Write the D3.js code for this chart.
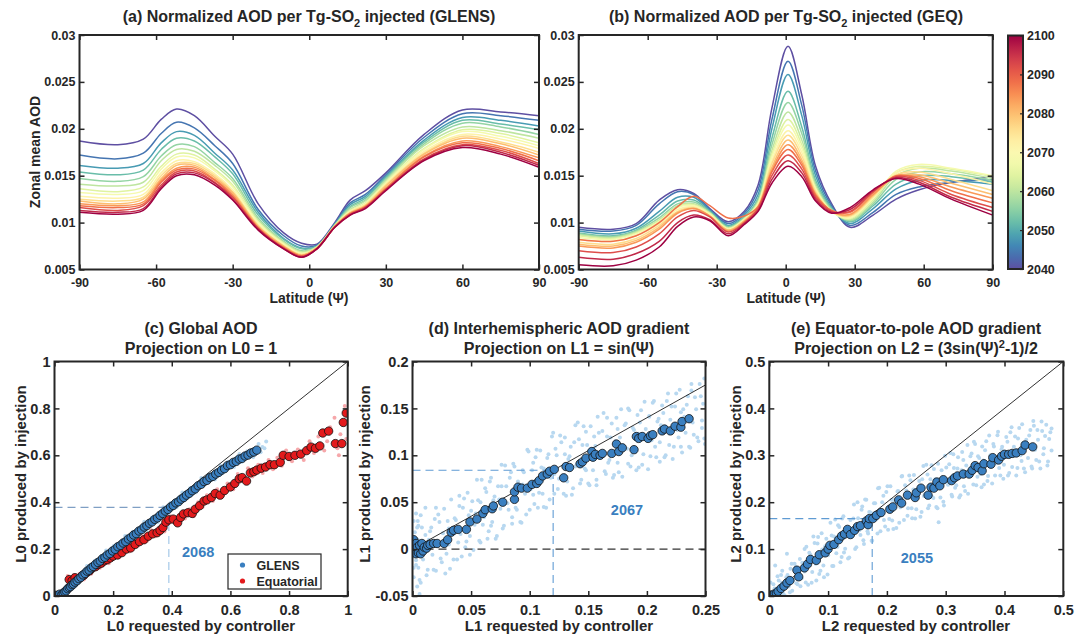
<!DOCTYPE html>
<html>
<head>
<meta charset="utf-8">
<script src="https://cdn.jsdelivr.net/npm/d3@7"></script>
<style>
  body { margin: 0; background: #fff; }
</style>
</head>
<body>
<svg id="fig" width="1089" height="636"></svg>
<script>
// ---------- data ----------
const years = [2040,2044,2048,2052,2056,2060,2064,2068,2072,2076,2080,2084,2088,2092,2096,2100];

// (a) GLENS, zonal mean AOD in units of 1e-4, one row per year
const latA = [-90,-75,-65,-58,-52,-45,-37,-30,-20,-10,-3,3,10,16,22,30,45,60,75,90];
const glensAOD = [
  [187,183,189,210,221,214,192,173,120,89,78,77,100,124,134,153,194,220,218,214],
  [172,168,174,195,207,201,182,163,114,86,75,76,99,121,130,151,191,216,214,209],
  [161,158,163,185,197,193,174,156,111,83,73,75,98,119,128,149,188,212,209,203],
  [154,151,156,178,190,187,170,152,108,82,72,75,98,117,126,148,186,209,205,199],
  [147,144,149,171,183,181,164,147,105,80,70,74,97,116,124,146,184,206,202,194],
  [141,139,143,166,178,176,161,144,103,79,69,74,97,114,123,145,182,202,198,190],
  [136,133,138,160,173,172,157,140,101,78,68,74,97,113,121,143,179,199,195,185],
  [132,130,134,157,170,169,155,138,100,77,67,73,96,112,120,142,178,197,192,182],
  [128,126,130,153,166,165,152,135,98,76,66,73,96,112,119,141,176,194,189,179],
  [125,123,127,150,163,163,150,133,97,75,66,73,96,111,119,140,174,192,186,175],
  [123,120,125,147,161,161,148,132,96,75,65,73,96,110,118,139,173,190,184,172],
  [120,118,122,145,158,159,146,130,95,74,65,73,96,110,117,137,171,187,181,169],
  [118,116,120,143,156,157,145,128,94,73,64,72,95,109,117,136,170,185,179,166],
  [116,113,118,140,154,155,143,127,94,73,64,72,95,109,116,135,168,183,177,163],
  [113,111,115,138,152,153,142,125,93,72,63,72,95,108,116,135,167,182,175,161],
  [111,109,113,136,150,151,140,124,92,72,63,72,95,108,115,134,166,180,173,159]
];

// (b) GEQ, zonal mean AOD in units of 1e-4
const latB = [-90,-75,-65,-55,-47,-40,-33,-25,-18,-12,-6,1,7,13,20,28,38,48,58,72,90];
const geqAOD = [
  [95,93,99,124,135,131,115,101,112,140,222,288,236,160,120,95,108,125,135,143,149],
  [93,91,97,120,133,130,114,99,110,135,210,272,225,155,118,97,111,130,138,143,146],
  [91,88,94,112,127,127,113,97,108,130,200,258,214,150,116,99,115,136,145,145,141],
  [89,86,92,108,123,124,112,96,106,126,190,240,202,145,115,101,118,141,150,149,143],
  [88,85,91,105,120,122,111,95,105,124,183,228,195,142,114,102,120,146,154,152,145],
  [87,84,90,103,118,120,110,94,104,122,177,218,188,139,113,103,122,150,158,155,147],
  [86,83,89,102,117,119,110,94,104,121,173,210,183,137,112,104,124,153,160,157,149],
  [84,82,88,101,116,118,109,93,103,120,170,204,179,136,112,105,126,155,162,158,150],
  [82,80,86,99,114,117,108,93,103,119,166,198,175,134,112,106,127,153,158,152,141],
  [79,77,83,97,112,116,107,92,102,118,163,193,171,133,112,107,128,151,154,146,134],
  [77,75,81,95,111,115,107,92,102,117,159,188,167,131,112,108,129,150,151,142,130],
  [75,73,79,93,110,115,107,91,101,116,156,183,164,130,112,109,130,149,149,138,126],
  [82,80,86,100,117,128,118,105,107,117,154,178,161,129,113,111,132,150,147,134,121],
  [70,68,74,88,106,113,106,90,100,115,150,172,157,127,112,112,133,149,145,130,116],
  [63,61,67,80,100,108,103,88,99,113,146,166,153,125,111,114,134,148,143,127,112],
  [55,54,60,74,96,106,102,86,98,112,142,160,149,123,110,116,135,147,141,125,108]
];

const latTicks = [-90,-60,-30,0,30,60,90];
const aodTicks = [0.005,0.01,0.015,0.02,0.025,0.03];
const barTicks = [2040,2050,2060,2070,2080,2090,2100];

// (c) L0 projection
const cCloud = [[0.008,0.012],[0.014,-0.001],[0.021,0.01],[0.027,-0.001],[0.034,0.021],[0.04,0.02],[0.046,0.042],[0.053,0.03],[0.059,0.046],[0.066,0.05],[0.072,0.07],[0.079,0.063],[0.085,0.079],[0.092,0.074],[0.098,0.097],[0.105,0.094],[0.111,0.128],[0.118,0.096],[0.124,0.12],[0.131,0.117],[0.137,0.149],[0.144,0.127],[0.15,0.151],[0.157,0.132],[0.163,0.169],[0.17,0.16],[0.176,0.194],[0.183,0.161],[0.189,0.184],[0.196,0.181],[0.202,0.213],[0.209,0.189],[0.215,0.213],[0.222,0.194],[0.228,0.231],[0.235,0.222],[0.241,0.256],[0.248,0.222],[0.254,0.246],[0.261,0.242],[0.267,0.274],[0.274,0.251],[0.28,0.274],[0.287,0.255],[0.293,0.292],[0.3,0.283],[0.306,0.317],[0.313,0.283],[0.319,0.306],[0.326,0.303],[0.332,0.334],[0.339,0.311],[0.345,0.334],[0.352,0.315],[0.358,0.353],[0.365,0.344],[0.371,0.378],[0.378,0.345],[0.384,0.369],[0.391,0.366],[0.397,0.398],[0.404,0.375],[0.41,0.398],[0.417,0.379],[0.423,0.417],[0.43,0.407],[0.436,0.441],[0.443,0.407],[0.449,0.431],[0.456,0.428],[0.462,0.46],[0.469,0.436],[0.475,0.46],[0.482,0.441],[0.488,0.478],[0.495,0.469],[0.501,0.503],[0.508,0.469],[0.514,0.492],[0.521,0.488],[0.527,0.519],[0.534,0.495],[0.54,0.518],[0.547,0.497],[0.553,0.535],[0.56,0.524],[0.566,0.557],[0.573,0.523],[0.579,0.546],[0.586,0.542],[0.592,0.573],[0.599,0.549],[0.605,0.571],[0.612,0.55],[0.618,0.586],[0.625,0.575],[0.631,0.606],[0.638,0.571],[0.644,0.593],[0.651,0.588],[0.657,0.617],[0.664,0.592],[0.67,0.613],[0.677,0.592],[0.683,0.628],[0.69,0.616],[0.696,0.648],[0.703,0.613],[0.709,0.635],[0.716,0.63],[0.722,0.659]];
const cGlens = [[0.005,0.003],[0.012,0.002],[0.018,0.008],[0.025,0.006],[0.03,0.012],[0.035,0.018],[0.04,0.022],[0.045,0.031],[0.05,0.036],[0.055,0.04],[0.06,0.048],[0.065,0.051],[0.07,0.059],[0.077,0.065],[0.083,0.074],[0.09,0.08],[0.097,0.09],[0.104,0.096],[0.111,0.106],[0.118,0.11],[0.125,0.12],[0.132,0.126],[0.14,0.135],[0.148,0.143],[0.156,0.149],[0.164,0.16],[0.172,0.165],[0.18,0.175],[0.189,0.181],[0.198,0.192],[0.207,0.199],[0.216,0.21],[0.225,0.216],[0.234,0.226],[0.243,0.232],[0.252,0.243],[0.261,0.25],[0.27,0.26],[0.279,0.266],[0.288,0.277],[0.297,0.283],[0.306,0.294],[0.315,0.3],[0.324,0.31],[0.333,0.316],[0.342,0.327],[0.351,0.333],[0.36,0.344],[0.369,0.352],[0.378,0.362],[0.387,0.369],[0.396,0.38],[0.405,0.386],[0.414,0.397],[0.423,0.402],[0.432,0.413],[0.441,0.42],[0.45,0.43],[0.46,0.438],[0.47,0.449],[0.48,0.457],[0.49,0.47],[0.5,0.476],[0.51,0.488],[0.52,0.493],[0.53,0.505],[0.54,0.51],[0.55,0.52],[0.56,0.527],[0.57,0.537],[0.58,0.543],[0.59,0.556],[0.6,0.56],[0.61,0.57],[0.62,0.574],[0.63,0.584],[0.64,0.587],[0.65,0.597],[0.66,0.601],[0.67,0.61],[0.68,0.614],[0.69,0.622]];
const cEqCloud = [[0.045,0.085],[0.055,0.05],[0.065,0.09],[0.075,0.06],[0.085,0.095],[0.1,0.07],[0.115,0.115],[0.125,0.095],[0.14,0.14],[0.155,0.12],[0.17,0.165],[0.185,0.14],[0.2,0.185],[0.22,0.165],[0.24,0.21],[0.255,0.19],[0.27,0.235],[0.285,0.215],[0.3,0.255],[0.315,0.235],[0.33,0.28],[0.345,0.255],[0.365,0.3],[0.375,0.275],[0.395,0.34],[0.41,0.31],[0.425,0.345],[0.445,0.33],[0.46,0.37],[0.475,0.34],[0.49,0.4],[0.505,0.38],[0.52,0.43],[0.54,0.405],[0.555,0.455],[0.575,0.43],[0.59,0.48],[0.61,0.455],[0.625,0.52],[0.645,0.49],[0.66,0.545],[0.675,0.51],[0.695,0.56],[0.71,0.525],[0.73,0.58],[0.745,0.54],[0.76,0.59],[0.775,0.555],[0.79,0.62],[0.81,0.575],[0.83,0.625],[0.85,0.58],[0.87,0.66],[0.885,0.61],[0.9,0.68],[0.92,0.62],[0.94,0.72],[0.955,0.76],[0.965,0.63],[0.975,0.69],[0.99,0.81],[0.995,0.67],[0.97,0.6],[0.93,0.66]];
const cEq = [[0.05,0.07],[0.06,0.065],[0.07,0.078],[0.08,0.07],[0.09,0.08],[0.1,0.088],[0.11,0.1],[0.12,0.108],[0.13,0.12],[0.14,0.125],[0.15,0.135],[0.16,0.14],[0.17,0.15],[0.18,0.155],[0.19,0.162],[0.2,0.17],[0.215,0.175],[0.23,0.185],[0.245,0.2],[0.26,0.205],[0.275,0.22],[0.29,0.232],[0.305,0.24],[0.32,0.255],[0.335,0.265],[0.35,0.27],[0.36,0.28],[0.37,0.292],[0.38,0.315],[0.39,0.325],[0.405,0.328],[0.42,0.312],[0.43,0.335],[0.44,0.35],[0.455,0.355],[0.47,0.352],[0.48,0.37],[0.495,0.385],[0.51,0.405],[0.52,0.41],[0.535,0.42],[0.548,0.437],[0.565,0.43],[0.58,0.45],[0.6,0.465],[0.615,0.48],[0.63,0.5],[0.64,0.505],[0.655,0.49],[0.668,0.525],[0.68,0.53],[0.69,0.537],[0.705,0.545],[0.72,0.55],[0.735,0.56],[0.75,0.56],[0.77,0.57],[0.78,0.6],[0.8,0.595],[0.82,0.6],[0.84,0.605],[0.86,0.62],[0.875,0.635],[0.89,0.63],[0.905,0.64],[0.915,0.695],[0.935,0.703],[0.958,0.65],[0.98,0.65],[0.985,0.74],[0.995,0.78]];

// (d) L1 projection
const dCloud = [[0.001,0.03],[0.003,-0.017],[0.0045,0.01],[0.006,-0.033],[0.008,0.023],[0.01,-0.003],[0.011,0.044],[0.013,-0.022],[0.015,0.019],[0.017,-0.006],[0.019,0.032],[0.02,-0.023],[0.022,0.037],[0.024,-0.01],[0.026,0.017],[0.028,-0.026],[0.03,0.03],[0.031,0.005],[0.033,0.053],[0.035,-0.011],[0.037,0.031],[0.039,0.007],[0.04,0.046],[0.042,-0.008],[0.044,0.054],[0.046,0.008],[0.048,0.036],[0.049,-0.006],[0.051,0.051],[0.053,0.026],[0.055,0.074],[0.057,0.009],[0.058,0.05],[0.06,0.026],[0.062,0.065],[0.064,0.011],[0.066,0.072],[0.067,0.025],[0.069,0.052],[0.071,0.011],[0.073,0.067],[0.075,0.043],[0.076,0.09],[0.078,0.025],[0.08,0.067],[0.082,0.042],[0.084,0.082],[0.085,0.027],[0.087,0.088],[0.089,0.042],[0.091,0.069],[0.093,0.028],[0.094,0.084],[0.096,0.059],[0.098,0.106],[0.1,0.042],[0.102,0.084],[0.103,0.058],[0.105,0.098],[0.107,0.044],[0.109,0.105],[0.111,0.059],[0.112,0.086],[0.114,0.044],[0.116,0.101],[0.118,0.076],[0.12,0.124],[0.121,0.059],[0.123,0.1],[0.125,0.075],[0.127,0.114],[0.129,0.059],[0.13,0.119],[0.132,0.072],[0.134,0.099],[0.136,0.058],[0.138,0.114],[0.139,0.088],[0.141,0.135],[0.143,0.07],[0.145,0.111],[0.147,0.086],[0.148,0.125],[0.15,0.07],[0.152,0.131],[0.154,0.084],[0.156,0.11],[0.157,0.068],[0.159,0.124],[0.161,0.098],[0.163,0.145],[0.165,0.08],[0.166,0.12],[0.168,0.095],[0.17,0.134],[0.172,0.079],[0.174,0.14],[0.175,0.092],[0.177,0.119],[0.179,0.077],[0.181,0.132],[0.183,0.107],[0.184,0.15],[0.186,0.088],[0.188,0.129],[0.19,0.104],[0.192,0.143],[0.193,0.087],[0.195,0.148],[0.197,0.101],[0.199,0.128],[0.201,0.085],[0.202,0.141],[0.204,0.116],[0.206,0.158],[0.208,0.098],[0.21,0.139],[0.211,0.114],[0.213,0.153],[0.215,0.098],[0.217,0.158],[0.219,0.111],[0.22,0.138],[0.222,0.096],[0.224,0.152],[0.226,0.127],[0.228,0.17],[0.229,0.109],[0.231,0.149],[0.233,0.124],[0.235,0.163],[0.237,0.108],[0.238,0.169],[0.24,0.122],[0.242,0.149],[0.244,0.115],[0.246,0.163],[0.247,0.137],[0.249,0.182],[0.249,0.118],[0.001,-0.03],[0.002,0.018],[0.0005,-0.008],[0.003,0.038],[0.004,-0.04],[0.002,0.005],[0.005,0.025],[0.001,-0.02],[0.006,-0.048],[0.003,-0.012],[0.0045,0.03],[0.007,-0.036]];
const dCloud2 = [[0.002,-0.004],[0.004,0.023],[0.005,-0.02],[0.007,0.036],[0.009,-0.011],[0.011,0.015],[0.012,-0.028],[0.014,0.01],[0.016,0.023],[0.018,-0.022],[0.02,0.044],[0.021,0.003],[0.023,0.029],[0.025,-0.014],[0.027,0.043],[0.029,-0.005],[0.031,0.022],[0.032,-0.021],[0.034,0.019],[0.036,0.033],[0.038,-0.011],[0.04,0.057],[0.041,0.016],[0.043,0.044],[0.045,0.002],[0.047,0.06],[0.049,0.014],[0.05,0.041],[0.052,-0.001],[0.054,0.038],[0.056,0.052],[0.058,0.007],[0.059,0.074],[0.061,0.034],[0.063,0.061],[0.065,0.019],[0.067,0.076],[0.068,0.029],[0.07,0.056],[0.072,0.014],[0.074,0.053],[0.076,0.067],[0.077,0.022],[0.079,0.089],[0.081,0.049],[0.083,0.076],[0.085,0.034],[0.086,0.091],[0.088,0.044],[0.09,0.072],[0.092,0.029],[0.094,0.069],[0.095,0.082],[0.097,0.037],[0.099,0.104],[0.101,0.064],[0.103,0.092],[0.104,0.048],[0.106,0.106],[0.108,0.06],[0.11,0.087],[0.112,0.045],[0.113,0.084],[0.115,0.097],[0.117,0.053],[0.119,0.12],[0.121,0.08],[0.122,0.107],[0.124,0.064],[0.126,0.121],[0.128,0.074],[0.13,0.101],[0.131,0.057],[0.133,0.096],[0.135,0.109],[0.137,0.065],[0.139,0.132],[0.14,0.09],[0.142,0.117],[0.144,0.074],[0.146,0.131],[0.148,0.084],[0.149,0.111],[0.151,0.068],[0.153,0.107],[0.155,0.12],[0.157,0.074],[0.158,0.141],[0.16,0.1],[0.162,0.126],[0.164,0.083],[0.166,0.14],[0.167,0.092],[0.169,0.119],[0.171,0.076],[0.173,0.115],[0.175,0.128],[0.176,0.082],[0.178,0.149],[0.18,0.108],[0.182,0.134],[0.184,0.091],[0.185,0.148],[0.187,0.1],[0.189,0.127],[0.191,0.084],[0.193,0.123],[0.194,0.135],[0.196,0.09],[0.198,0.157],[0.2,0.116],[0.202,0.142],[0.203,0.099],[0.205,0.156],[0.207,0.109],[0.209,0.136],[0.211,0.093],[0.212,0.132],[0.214,0.145],[0.216,0.1],[0.218,0.166],[0.22,0.125],[0.221,0.152],[0.223,0.109],[0.225,0.166],[0.227,0.119],[0.229,0.146],[0.23,0.103],[0.232,0.141],[0.234,0.154],[0.236,0.109],[0.238,0.176],[0.239,0.135],[0.241,0.162],[0.243,0.119],[0.245,0.176],[0.247,0.129],[0.248,0.155],[0.2495,0.112]];
const dGlens = [[0,0],[0.001,0.01],[0.002,-0.002],[0.003,0.006],[0.003,-0.005],[0.004,0.002],[0.005,-0.004],[0.006,0.004],[0.007,-0.005],[0.008,0.006],[0.009,-0.002],[0.01,0.002],[0.012,0.001],[0.013,0.004],[0.015,0.005],[0.018,0.006],[0.021,0.006],[0.027,0.006],[0.03,0.01],[0.033,0.018],[0.035,0.02],[0.039,0.021],[0.046,0.021],[0.049,0.029],[0.055,0.032],[0.06,0.038],[0.062,0.042],[0.068,0.043],[0.069,0.046],[0.077,0.05],[0.087,0.053],[0.087,0.061],[0.09,0.066],[0.093,0.065],[0.098,0.065],[0.102,0.069],[0.106,0.07],[0.108,0.073],[0.111,0.078],[0.115,0.08],[0.117,0.083],[0.121,0.085],[0.129,0.076],[0.131,0.088],[0.134,0.087],[0.143,0.091],[0.145,0.093],[0.148,0.097],[0.153,0.104],[0.154,0.098],[0.156,0.101],[0.16,0.1],[0.162,0.102],[0.17,0.102],[0.174,0.112],[0.176,0.104],[0.179,0.108],[0.189,0.106],[0.191,0.12],[0.193,0.118],[0.196,0.12],[0.201,0.118],[0.203,0.121],[0.205,0.122],[0.213,0.126],[0.215,0.128],[0.22,0.126],[0.224,0.131],[0.229,0.13],[0.23,0.136],[0.236,0.139]];

// (e) L2 projection
const eCloud = [[0.002,0.029],[0.005,0.001],[0.009,0.016],[0.012,0.004],[0.016,0.033],[0.019,0.012],[0.022,0.054],[0.026,0.001],[0.029,0.04],[0.033,0.02],[0.036,0.058],[0.039,0.011],[0.043,0.069],[0.046,0.027],[0.05,0.056],[0.053,0.021],[0.056,0.071],[0.06,0.052],[0.063,0.105],[0.066,0.024],[0.07,0.088],[0.073,0.051],[0.077,0.113],[0.08,0.033],[0.083,0.126],[0.087,0.054],[0.09,0.099],[0.093,0.04],[0.097,0.122],[0.1,0.087],[0.104,0.156],[0.107,0.064],[0.11,0.127],[0.114,0.091],[0.117,0.151],[0.121,0.072],[0.124,0.165],[0.127,0.093],[0.131,0.139],[0.134,0.08],[0.138,0.162],[0.141,0.127],[0.144,0.195],[0.148,0.104],[0.151,0.166],[0.155,0.13],[0.158,0.191],[0.161,0.111],[0.165,0.205],[0.168,0.133],[0.172,0.178],[0.175,0.118],[0.178,0.198],[0.182,0.163],[0.185,0.23],[0.189,0.138],[0.192,0.2],[0.195,0.162],[0.199,0.222],[0.202,0.141],[0.206,0.234],[0.209,0.161],[0.212,0.204],[0.216,0.145],[0.219,0.224],[0.223,0.189],[0.226,0.256],[0.229,0.162],[0.233,0.225],[0.236,0.187],[0.24,0.247],[0.243,0.166],[0.246,0.258],[0.25,0.185],[0.253,0.229],[0.257,0.169],[0.26,0.249],[0.263,0.213],[0.267,0.28],[0.27,0.187],[0.274,0.249],[0.277,0.211],[0.28,0.271],[0.284,0.19],[0.287,0.282],[0.291,0.21],[0.294,0.253],[0.297,0.193],[0.301,0.274],[0.304,0.237],[0.308,0.305],[0.311,0.212],[0.314,0.273],[0.318,0.236],[0.321,0.296],[0.325,0.215],[0.328,0.307],[0.331,0.234],[0.335,0.278],[0.338,0.218],[0.342,0.298],[0.345,0.262],[0.348,0.329],[0.352,0.236],[0.355,0.298],[0.359,0.26],[0.362,0.319],[0.365,0.238],[0.369,0.33],[0.372,0.256],[0.376,0.3],[0.379,0.24],[0.382,0.319],[0.386,0.283],[0.389,0.35],[0.393,0.257],[0.396,0.318],[0.399,0.28],[0.403,0.339],[0.406,0.257],[0.41,0.349],[0.413,0.275],[0.416,0.318],[0.42,0.257],[0.423,0.336],[0.427,0.3],[0.43,0.366],[0.433,0.272],[0.437,0.333],[0.44,0.294],[0.444,0.354],[0.447,0.272],[0.45,0.363],[0.454,0.29],[0.457,0.333],[0.461,0.272],[0.464,0.352],[0.467,0.315],[0.471,0.365],[0.474,0.287],[0.478,0.349],[0.48,0.31],[0.288,0.157],[0.03,0.09],[0.01,0.065],[0.02,0.045],[0.06,0.1]];
const eCloud2 = [[0.004,0.001],[0.007,0.025],[0.011,0.003],[0.014,0.042],[0.018,0.003],[0.021,0.028],[0.024,0.004],[0.028,0.03],[0.031,0.045],[0.035,0.008],[0.038,0.069],[0.041,0.034],[0.045,0.062],[0.048,0.025],[0.052,0.079],[0.055,0.038],[0.058,0.064],[0.062,0.029],[0.065,0.069],[0.068,0.092],[0.072,0.028],[0.075,0.127],[0.079,0.069],[0.082,0.112],[0.085,0.047],[0.089,0.134],[0.092,0.065],[0.095,0.106],[0.099,0.046],[0.102,0.105],[0.106,0.129],[0.109,0.064],[0.112,0.163],[0.116,0.105],[0.119,0.147],[0.123,0.083],[0.126,0.17],[0.129,0.101],[0.133,0.143],[0.136,0.082],[0.14,0.142],[0.143,0.165],[0.146,0.1],[0.15,0.2],[0.153,0.14],[0.157,0.184],[0.16,0.119],[0.163,0.206],[0.167,0.138],[0.17,0.179],[0.174,0.118],[0.177,0.176],[0.18,0.198],[0.184,0.133],[0.187,0.231],[0.191,0.172],[0.194,0.214],[0.197,0.148],[0.201,0.234],[0.204,0.164],[0.208,0.205],[0.211,0.143],[0.214,0.2],[0.218,0.223],[0.221,0.156],[0.225,0.255],[0.228,0.195],[0.231,0.236],[0.235,0.171],[0.238,0.257],[0.242,0.187],[0.245,0.227],[0.248,0.165],[0.252,0.223],[0.255,0.245],[0.259,0.179],[0.262,0.277],[0.265,0.217],[0.269,0.259],[0.272,0.193],[0.276,0.279],[0.279,0.209],[0.282,0.249],[0.286,0.187],[0.289,0.245],[0.293,0.268],[0.296,0.201],[0.299,0.299],[0.303,0.24],[0.306,0.281],[0.31,0.216],[0.313,0.302],[0.316,0.231],[0.32,0.272],[0.323,0.21],[0.327,0.268],[0.33,0.29],[0.333,0.224],[0.337,0.322],[0.34,0.262],[0.344,0.304],[0.347,0.238],[0.35,0.324],[0.354,0.254],[0.357,0.294],[0.361,0.232],[0.364,0.289],[0.367,0.311],[0.371,0.245],[0.374,0.342],[0.378,0.282],[0.381,0.324],[0.384,0.257],[0.388,0.343],[0.391,0.273],[0.395,0.313],[0.398,0.25],[0.401,0.308],[0.405,0.329],[0.408,0.262],[0.412,0.36],[0.415,0.299],[0.418,0.34],[0.422,0.273],[0.425,0.358],[0.429,0.288],[0.432,0.327],[0.435,0.264],[0.439,0.321],[0.442,0.342],[0.446,0.276],[0.449,0.373],[0.452,0.312],[0.456,0.354],[0.459,0.287],[0.463,0.372],[0.466,0.302],[0.469,0.341],[0.473,0.278],[0.476,0.335],[0.48,0.357]];
const eGlens = [[0.002,0.002],[0.005,0.001],[0.008,0.004],[0.012,0.006],[0.015,0.01],[0.02,0.016],[0.025,0.021],[0.03,0.028],[0.035,0.033],[0.047,0.055],[0.05,0.041],[0.06,0.06],[0.065,0.068],[0.07,0.078],[0.08,0.076],[0.085,0.088],[0.095,0.092],[0.1,0.1],[0.103,0.108],[0.11,0.11],[0.118,0.12],[0.123,0.128],[0.128,0.132],[0.133,0.142],[0.138,0.131],[0.145,0.14],[0.15,0.148],[0.155,0.15],[0.165,0.16],[0.168,0.152],[0.17,0.165],[0.176,0.165],[0.182,0.172],[0.19,0.178],[0.205,0.185],[0.21,0.19],[0.22,0.205],[0.225,0.198],[0.235,0.215],[0.248,0.21],[0.25,0.22],[0.258,0.23],[0.27,0.215],[0.275,0.232],[0.28,0.23],[0.285,0.243],[0.29,0.235],[0.296,0.248],[0.31,0.246],[0.315,0.252],[0.32,0.256],[0.33,0.26],[0.34,0.26],[0.345,0.268],[0.35,0.278],[0.355,0.274],[0.362,0.267],[0.365,0.282],[0.377,0.281],[0.38,0.295],[0.39,0.29],[0.395,0.298],[0.4,0.302],[0.407,0.302],[0.413,0.304],[0.42,0.305],[0.43,0.31],[0.435,0.322],[0.448,0.318]];

// year marks: point where the dashed guides meet, and label position
const cMark = [0.39, 0.378], cMarkLabel = {text: "2068", x: 0.49, y: 0.166};
const dMark = [0.12, 0.084], dMarkLabel = {text: "2067", x: 0.183, y: 0.036};
const eMark = [0.175, 0.165], eMarkLabel = {text: "2055", x: 0.251, y: 0.07};

// ---------- drawing ----------
const FONT = '"Liberation Sans", Arial, Helvetica, sans-serif';
const INK = "#262626";
const LIGHTBLUE = "#b8d8f0", BLUE = "#3a7fc0", RED = "#e31a1c", LIGHTRED = "#f6a7aa";
const svg = d3.select("#fig");

const yearColor = yr => d3.interpolateSpectral(1 - (yr - 2040) / 60);
const fmt = d => String(+d.toFixed(3));

function frame(x, y, xt, yt, fs, xpad) {
  const [x0, x1] = x.range(), [y0, y1] = y.range();
  const g = svg.append("g");
  g.append("g").attr("transform", `translate(0,${y0})`)
    .call(d3.axisBottom(x).tickValues(xt).tickFormat(fmt).tickSizeInner(-5).tickSizeOuter(0).tickPadding(xpad));
  g.append("g").attr("transform", `translate(0,${y1})`)
    .call(d3.axisTop(x).tickValues(xt).tickFormat("").tickSizeInner(-5).tickSizeOuter(0));
  g.append("g").attr("transform", `translate(${x0},0)`)
    .call(d3.axisLeft(y).tickValues(yt).tickFormat(fmt).tickSizeInner(-5).tickSizeOuter(0).tickPadding(4));
  g.append("g").attr("transform", `translate(${x1},0)`)
    .call(d3.axisRight(y).tickValues(yt).tickFormat("").tickSizeInner(-5).tickSizeOuter(0));
  g.selectAll(".domain").remove();
  g.selectAll(".tick line").attr("stroke", INK).attr("stroke-width", 1.5);
  g.selectAll(".tick text").attr("fill", INK).style("font", `bold ${fs}px ${FONT}`);
  g.append("rect").attr("x", x0).attr("y", y1).attr("width", x1 - x0).attr("height", y0 - y1)
    .attr("fill", "none").attr("stroke", INK).attr("stroke-width", 2);
}

function clipFor(id, x, y) {
  const [x0, x1] = x.range(), [y0, y1] = y.range();
  svg.append("clipPath").attr("id", id).append("rect")
    .attr("x", x0).attr("y", y1).attr("width", x1 - x0).attr("height", y0 - y1);
  return svg.append("g").attr("clip-path", `url(#${id})`);
}

// parts: [text, shift] with shift 0 normal, >0 subscript, <0 superscript
function label(x, y, parts, fs, rotate) {
  const t = svg.append("text").attr("text-anchor", "middle").attr("fill", INK)
    .style("font", `bold ${fs}px ${FONT}`);
  if (rotate) t.attr("transform", `translate(${x},${y}) rotate(-90)`);
  else t.attr("x", x).attr("y", y);
  let cur = 0;
  parts.forEach(([s, shift]) => {
    const sp = t.append("tspan").attr("dy", shift - cur).text(s);
    if (shift) sp.style("font-size", `${Math.round(fs * 0.7)}px`);
    cur = shift;
  });
}

// ----- top panels -----
function zonal(id, x, y, lats, rows) {
  const g = clipFor(id, x, y);
  const line = d3.line().x((d, i) => x(lats[i])).y(d => y(d * 1e-4))
    .curve(d3.curveCatmullRom.alpha(0.5));
  rows.forEach((r, k) => {
    g.append("path").attr("d", line(r)).attr("fill", "none")
      .attr("stroke", yearColor(years[k])).attr("stroke-width", 1.5);
  });
  frame(x, y, latTicks, aodTicks, 12.5, 9);
}

const yTop = d3.scaleLinear([0.005, 0.03], [269.5, 35]);
const xA = d3.scaleLinear([-90, 90], [79.5, 539]);
const xB = d3.scaleLinear([-90, 90], [578.7, 992.7]);
zonal("clipA", xA, yTop, latA, glensAOD);
zonal("clipB", xB, yTop, latB, geqAOD);

label(309, 22, [["(a) Normalized AOD per Tg-SO", 0], ["2", 5], [" injected (GLENS)", 0]], 16);
label(786, 22, [["(b) Normalized AOD per Tg-SO", 0], ["2", 5], [" injected (GEQ)", 0]], 16);
label(40, 152, [["Zonal mean AOD", 0]], 14, true);
label(309, 303, [["Latitude (Ψ)", 0]], 14);
label(786, 303, [["Latitude (Ψ)", 0]], 14);

// colorbar
const yBar = d3.scaleLinear([2040, 2100], [269, 35.5]);
const grad = svg.append("defs").append("linearGradient").attr("id", "spec")
  .attr("x1", 0).attr("y1", 1).attr("x2", 0).attr("y2", 0);
d3.range(0, 1.0001, 0.05).forEach(t => {
  grad.append("stop").attr("offset", t).attr("stop-color", yearColor(2040 + 60 * t));
});
svg.append("rect").attr("x", 1008).attr("y", yBar(2100)).attr("width", 15)
  .attr("height", yBar(2040) - yBar(2100)).attr("fill", "url(#spec)")
  .attr("stroke", INK).attr("stroke-width", 2);
const barAxis = svg.append("g").attr("transform", "translate(1023,0)")
  .call(d3.axisRight(yBar).tickValues(barTicks).tickFormat(d3.format("d")).tickSizeInner(-3).tickSizeOuter(0).tickPadding(4));
barAxis.select(".domain").remove();
barAxis.selectAll(".tick line").attr("stroke", INK).attr("stroke-width", 1.2);
barAxis.selectAll(".tick text").attr("fill", INK).style("font", `bold 12.5px ${FONT}`);

// ----- bottom panels -----
function scatter(id, x, y, opts) {
  const g = clipFor(id, x, y);
  const dots = (data, r, fill, stroke) => g.append("g").selectAll("circle").data(data).join("circle")
    .attr("cx", d => x(d[0])).attr("cy", d => y(d[1])).attr("r", r).attr("fill", fill)
    .attr("stroke", stroke || "none").attr("stroke-width", stroke ? 0.8 : 0);
  opts.clouds.forEach(([data, col]) => dots(data, 2.0, col));
  // reference line
  g.append("line").attr("x1", x(opts.diag[0][0])).attr("y1", y(opts.diag[0][1]))
    .attr("x2", x(opts.diag[1][0])).attr("y2", y(opts.diag[1][1]))
    .attr("stroke", "#1a1a1a").attr("stroke-width", 0.9);
  const ymin = y.domain()[0];
  if (opts.zero) {
    g.append("line").attr("x1", x.range()[0]).attr("x2", x.range()[1]).attr("y1", y(0)).attr("y2", y(0))
      .attr("stroke", "#333").attr("stroke-width", 1.1).attr("stroke-dasharray", "8,5");
  }
  const [mx, my] = opts.mark;
  g.append("line").attr("x1", x(0)).attr("x2", x(mx)).attr("y1", y(my)).attr("y2", y(my))
    .attr("stroke", opts.hcol).attr("stroke-width", 1.1).attr("stroke-dasharray", "8,5");
  g.append("line").attr("x1", x(mx)).attr("x2", x(mx)).attr("y1", y(ymin)).attr("y2", y(my))
    .attr("stroke", opts.vcol).attr("stroke-width", 1.1).attr("stroke-dasharray", "8,5");
  opts.means.forEach(([data, col]) => dots(data, 4.2, col, "#111"));
  svg.append("text").attr("x", x(opts.markLabel.x)).attr("y", y(opts.markLabel.y))
    .attr("text-anchor", "middle").attr("fill", BLUE)
    .style("font", `bold 14.5px ${FONT}`).text(opts.markLabel.text);
  frame(x, y, opts.xt, opts.yt, 14.5, 9);
}

const yC = d3.scaleLinear([0, 1], [596, 361.5]);
const xC = d3.scaleLinear([0, 1], [54.5, 347.7]);
scatter("clipC", xC, yC, {
  clouds: [[cCloud, LIGHTBLUE], [cEqCloud, LIGHTRED]],
  means: [[cEq, RED], [cGlens, BLUE]],
  diag: [[0, 0], [1, 1]], mark: cMark, markLabel: cMarkLabel,
  hcol: "#7f9fc4", vcol: "#9cc3e6",
  xt: [0, 0.2, 0.4, 0.6, 0.8, 1], yt: [0, 0.2, 0.4, 0.6, 0.8, 1]
});

const xD = d3.scaleLinear([0, 0.25], [412.5, 705.5]);
const yD = d3.scaleLinear([-0.05, 0.2], [596, 361.5]);
scatter("clipD", xD, yD, {
  clouds: [[dCloud, LIGHTBLUE], [dCloud2, LIGHTBLUE]],
  means: [[dGlens, BLUE]],
  diag: [[0, 0], [0.25, 0.175]], mark: dMark, markLabel: dMarkLabel, zero: true,
  hcol: "#5f9bd3", vcol: "#5f9bd3",
  xt: [0, 0.05, 0.1, 0.15, 0.2, 0.25], yt: [-0.05, 0, 0.05, 0.1, 0.15, 0.2]
});

const xE = d3.scaleLinear([0, 0.5], [769.3, 1063.3]);
const yE = d3.scaleLinear([0, 0.5], [596, 361.5]);
scatter("clipE", xE, yE, {
  clouds: [[eCloud, LIGHTBLUE], [eCloud2, LIGHTBLUE]],
  means: [[eGlens, BLUE]],
  diag: [[0, 0], [0.5, 0.5]], mark: eMark, markLabel: eMarkLabel,
  hcol: "#5f9bd3", vcol: "#5f9bd3",
  xt: [0, 0.1, 0.2, 0.3, 0.4, 0.5], yt: [0, 0.1, 0.2, 0.3, 0.4, 0.5]
});

// legend in (c)
const lg = svg.append("g");
lg.append("rect").attr("x", 228).attr("y", 554).attr("width", 93).attr("height", 35)
  .attr("fill", "#fff").attr("stroke", INK).attr("stroke-width", 1.2);
[["GLENS", BLUE, 565], ["Equatorial", RED, 581]].forEach(([name, col, yy]) => {
  lg.append("circle").attr("cx", 242.5).attr("cy", yy).attr("r", 2.6).attr("fill", col);
  lg.append("text").attr("x", 256.5).attr("y", yy + 4.5).attr("fill", INK)
    .style("font", `bold 12.5px ${FONT}`).text(name);
});

// titles and axis labels of bottom row
label(201, 334, [["(c) Global AOD", 0]], 16);
label(201, 354, [["Projection on L0 = 1", 0]], 16);
label(559, 334, [["(d) Interhemispheric AOD gradient", 0]], 16);
label(559, 354, [["Projection on L1 = sin(Ψ)", 0]], 16);
label(916, 334, [["(e) Equator-to-pole AOD gradient", 0]], 16);
label(916, 354, [["Projection on L2 = (3sin(Ψ)", 0], ["2", -6], ["-1)/2", 0]], 16);

label(26, 474, [["L0 produced by injection", 0]], 15, true);
label(370, 474, [["L1 produced by injection", 0]], 15, true);
label(741, 474, [["L2 produced by injection", 0]], 15, true);
label(201, 631, [["L0 requested by controller", 0]], 15);
label(559, 631, [["L1 requested by controller", 0]], 15);
label(916, 631, [["L2 requested by controller", 0]], 15);
</script>
</body>
</html>
